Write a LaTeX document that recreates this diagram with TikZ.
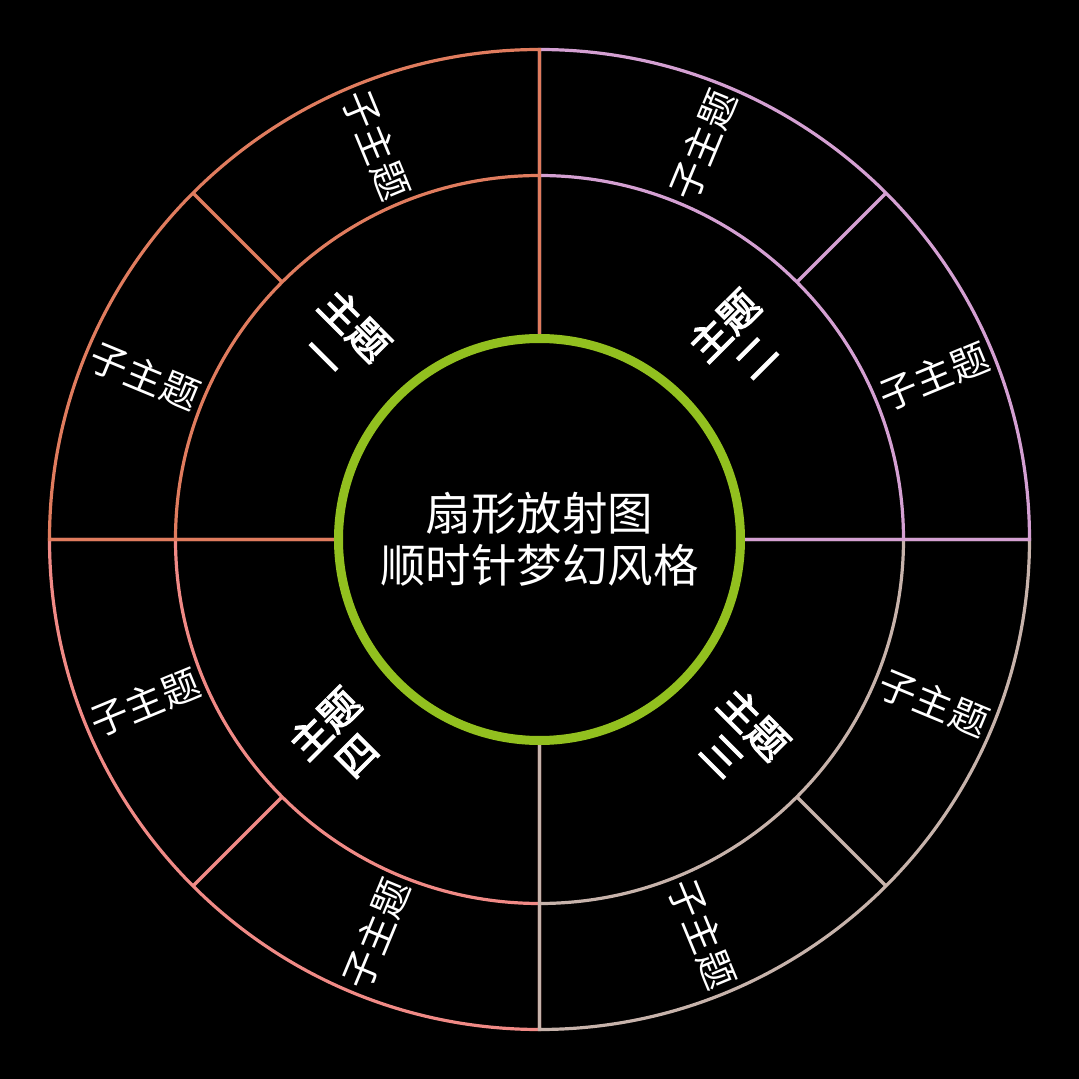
\documentclass[tikz,border=0pt]{standalone}
\usepackage{fontspec}
\newfontfamily\cjk{Noto Sans CJK SC}
\newfontfamily\cjkfb[FakeBold=3]{Noto Sans CJK SC}
\definecolor{cone}{HTML}{E07C5E}
\definecolor{ctwo}{HTML}{D4A0D2}
\definecolor{cthree}{HTML}{C7B3AB}
\definecolor{cfour}{HTML}{F08A86}
\definecolor{cgreen}{HTML}{92C01F}
\tikzset{
  ringline/.style={line width=3.2pt},
  mainlabel/.style={text=white, align=center, inner sep=0pt, font=\cjkfb\fontsize{40}{45}\selectfont},
  sublabel/.style={text=white, inner sep=0pt, font=\cjk\fontsize{38}{42}\selectfont},
  centerlabel/.style={text=white, align=center, inner sep=0pt, font=\cjk\fontsize{45.5}{52}\selectfont},
}
\newcommand{\quadsector}[3]{% color, start angle, end angle
  \draw[ringline, #1] (#2:201) -- (#2:490) arc[start angle=#2, end angle=#3, radius=490] -- (#3:201);
  \draw[ringline, #1] (#2:364) arc[start angle=#2, end angle=#3, radius=364];
  \draw[ringline, #1] ({(#2+#3)/2}:364) -- ({(#2+#3)/2}:490);
}
\begin{document}
\begin{tikzpicture}[x=1pt,y=1pt]
\fill[black] (-539.5,-539.5) rectangle (539.5,539.5);
\useasboundingbox (-539.5,-539.5) rectangle (539.5,539.5);
% drawn in order 4,3,2,1 so that later sectors cover shared edges
\quadsector{cfour}{180}{270}
\quadsector{cthree}{270}{360}
\quadsector{ctwo}{0}{90}
\quadsector{cone}{90}{180}
\draw[cgreen, line width=9pt] (0,0) circle[radius=201];
% main labels
\node[mainlabel, rotate=-45] (m1) at (135:282) {主题\\一};
\node[mainlabel, rotate=45] (m2) at (45:282) {主题\\二};
\node[mainlabel, rotate=-45] (m3) at (-45:282) {主题\\三};
\node[mainlabel, rotate=45] (m4) at (225:282) {主题\\四};
% sub labels
\node[sublabel, rotate=-67.5] (s1a) at (112.5:427) {子主题};
\node[sublabel, rotate=-22.5] (s1b) at (157.5:427) {子主题};
\node[sublabel, rotate=67.5] (s2a) at (67.5:427) {子主题};
\node[sublabel, rotate=22.5] (s2b) at (22.5:427) {子主题};
\node[sublabel, rotate=-22.5] (s3a) at (-22.5:427) {子主题};
\node[sublabel, rotate=-67.5] (s3b) at (-67.5:427) {子主题};
\node[sublabel, rotate=67.5] (s4a) at (247.5:427) {子主题};
\node[sublabel, rotate=22.5] (s4b) at (202.5:427) {子主题};
% center
\node[centerlabel] (c) at (0,0) {扇形放射图\\顺时针梦幻风格};
\end{tikzpicture}
\end{document}
